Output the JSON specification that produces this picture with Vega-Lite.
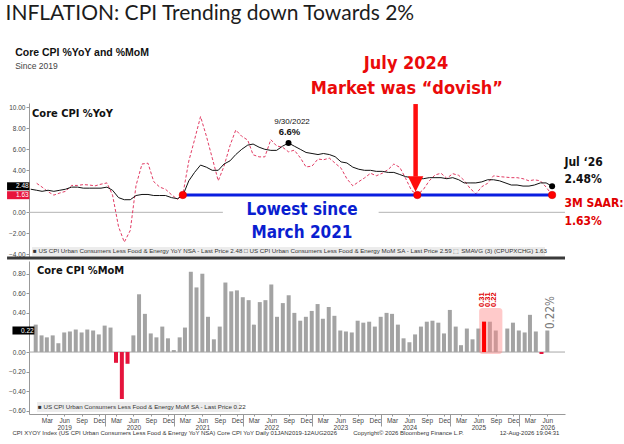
{
  "$schema": "https://vega.github.io/schema/vega-lite/v6.json",
  "background": "white",
  "padding": {"left": 5, "top": 3, "right": 0, "bottom": 0},
  "title": {
    "text": "INFLATION: CPI Trending down Towards 2%",
    "anchor": "start",
    "frame": "bounds",
    "font": "Lato",
    "fontSize": 21,
    "fontWeight": "normal",
    "color": "#1c1c1c",
    "offset": 24
  },
  "datasets": {
    "cpi": [
      {"date": "2019-01-01", "mom": 0.28, "yoy": 2.2, "saar": null},
      {"date": "2019-02-01", "mom": 0.17, "yoy": 2.1, "saar": 2.76},
      {"date": "2019-03-01", "mom": 0.15, "yoy": 2.0, "saar": 2.40},
      {"date": "2019-04-01", "mom": 0.17, "yoy": 2.1, "saar": 1.96},
      {"date": "2019-05-01", "mom": 0.09, "yoy": 2.0, "saar": 1.64},
      {"date": "2019-06-01", "mom": 0.20, "yoy": 2.1, "saar": 1.84},
      {"date": "2019-07-01", "mom": 0.21, "yoy": 2.2, "saar": 2.00},
      {"date": "2019-08-01", "mom": 0.23, "yoy": 2.4, "saar": 2.56},
      {"date": "2019-09-01", "mom": 0.20, "yoy": 2.4, "saar": 2.56},
      {"date": "2019-10-01", "mom": 0.23, "yoy": 2.3, "saar": 2.64},
      {"date": "2019-11-01", "mom": 0.22, "yoy": 2.3, "saar": 2.60},
      {"date": "2019-12-01", "mom": 0.18, "yoy": 2.3, "saar": 2.52},
      {"date": "2020-01-01", "mom": 0.27, "yoy": 2.3, "saar": 2.68},
      {"date": "2020-02-01", "mom": 0.25, "yoy": 2.4, "saar": 2.80},
      {"date": "2020-03-01", "mom": -0.11, "yoy": 2.1, "saar": 1.64},
      {"date": "2020-04-01", "mom": -0.48, "yoy": 1.4, "saar": -1.36},
      {"date": "2020-05-01", "mom": -0.12, "yoy": 1.2, "saar": -2.84},
      {"date": "2020-06-01", "mom": 0.17, "yoy": 1.2, "saar": -1.72},
      {"date": "2020-07-01", "mom": 0.59, "yoy": 1.6, "saar": 2.56},
      {"date": "2020-08-01", "mom": 0.39, "yoy": 1.7, "saar": 4.60},
      {"date": "2020-09-01", "mom": 0.19, "yoy": 1.7, "saar": 4.68},
      {"date": "2020-10-01", "mom": 0.15, "yoy": 1.6, "saar": 2.92},
      {"date": "2020-11-01", "mom": 0.26, "yoy": 1.6, "saar": 2.40},
      {"date": "2020-12-01", "mom": 0.14, "yoy": 1.6, "saar": 2.20},
      {"date": "2021-01-01", "mom": 0.02, "yoy": 1.4, "saar": 1.68},
      {"date": "2021-02-01", "mom": 0.15, "yoy": 1.3, "saar": 1.24},
      {"date": "2021-03-01", "mom": 0.25, "yoy": 1.6, "saar": 1.68},
      {"date": "2021-04-01", "mom": 0.82, "yoy": 3.0, "saar": 4.88},
      {"date": "2021-05-01", "mom": 0.66, "yoy": 3.8, "saar": 6.92},
      {"date": "2021-06-01", "mom": 0.80, "yoy": 4.5, "saar": 9.12},
      {"date": "2021-07-01", "mom": 0.36, "yoy": 4.3, "saar": 7.28},
      {"date": "2021-08-01", "mom": 0.13, "yoy": 4.0, "saar": 5.16},
      {"date": "2021-09-01", "mom": 0.26, "yoy": 4.0, "saar": 3.00},
      {"date": "2021-10-01", "mom": 0.71, "yoy": 4.6, "saar": 4.40},
      {"date": "2021-11-01", "mom": 0.62, "yoy": 4.9, "saar": 6.36},
      {"date": "2021-12-01", "mom": 0.63, "yoy": 5.5, "saar": 7.84},
      {"date": "2022-01-01", "mom": 0.56, "yoy": 6.0, "saar": 7.24},
      {"date": "2022-02-01", "mom": 0.53, "yoy": 6.4, "saar": 6.88},
      {"date": "2022-03-01", "mom": 0.28, "yoy": 6.5, "saar": 5.48},
      {"date": "2022-04-01", "mom": 0.51, "yoy": 6.2, "saar": 5.28},
      {"date": "2022-05-01", "mom": 0.53, "yoy": 6.0, "saar": 5.28},
      {"date": "2022-06-01", "mom": 0.69, "yoy": 5.9, "saar": 6.92},
      {"date": "2022-07-01", "mom": 0.36, "yoy": 5.9, "saar": 6.32},
      {"date": "2022-08-01", "mom": 0.50, "yoy": 6.3, "saar": 6.20},
      {"date": "2022-09-01", "mom": 0.58, "yoy": 6.6, "saar": 5.76},
      {"date": "2022-10-01", "mom": 0.40, "yoy": 6.3, "saar": 5.92},
      {"date": "2022-11-01", "mom": 0.32, "yoy": 6.0, "saar": 5.20},
      {"date": "2022-12-01", "mom": 0.36, "yoy": 5.7, "saar": 4.32},
      {"date": "2023-01-01", "mom": 0.42, "yoy": 5.6, "saar": 4.40},
      {"date": "2023-02-01", "mom": 0.49, "yoy": 5.5, "saar": 5.08},
      {"date": "2023-03-01", "mom": 0.34, "yoy": 5.6, "saar": 5.00},
      {"date": "2023-04-01", "mom": 0.46, "yoy": 5.5, "saar": 5.16},
      {"date": "2023-05-01", "mom": 0.37, "yoy": 5.3, "saar": 4.68},
      {"date": "2023-06-01", "mom": 0.22, "yoy": 4.8, "saar": 4.20},
      {"date": "2023-07-01", "mom": 0.21, "yoy": 4.7, "saar": 3.20},
      {"date": "2023-08-01", "mom": 0.20, "yoy": 4.3, "saar": 2.52},
      {"date": "2023-09-01", "mom": 0.32, "yoy": 4.1, "saar": 2.92},
      {"date": "2023-10-01", "mom": 0.30, "yoy": 4.0, "saar": 3.28},
      {"date": "2023-11-01", "mom": 0.31, "yoy": 4.0, "saar": 3.72},
      {"date": "2023-12-01", "mom": 0.26, "yoy": 3.9, "saar": 3.48},
      {"date": "2024-01-01", "mom": 0.36, "yoy": 3.9, "saar": 3.72},
      {"date": "2024-02-01", "mom": 0.40, "yoy": 3.8, "saar": 4.08},
      {"date": "2024-03-01", "mom": 0.39, "yoy": 3.8, "saar": 4.60},
      {"date": "2024-04-01", "mom": 0.28, "yoy": 3.6, "saar": 4.28},
      {"date": "2024-05-01", "mom": 0.14, "yoy": 3.4, "saar": 3.24},
      {"date": "2024-06-01", "mom": 0.10, "yoy": 3.3, "saar": 2.08},
      {"date": "2024-07-01", "mom": 0.18, "yoy": 3.2, "saar": 1.68},
      {"date": "2024-08-01", "mom": 0.26, "yoy": 3.2, "saar": 2.16},
      {"date": "2024-09-01", "mom": 0.31, "yoy": 3.3, "saar": 3.00},
      {"date": "2024-10-01", "mom": 0.32, "yoy": 3.3, "saar": 3.56},
      {"date": "2024-11-01", "mom": 0.30, "yoy": 3.3, "saar": 3.72},
      {"date": "2024-12-01", "mom": 0.19, "yoy": 3.2, "saar": 3.24},
      {"date": "2025-01-01", "mom": 0.43, "yoy": 3.3, "saar": 3.68},
      {"date": "2025-02-01", "mom": 0.26, "yoy": 3.1, "saar": 3.52},
      {"date": "2025-03-01", "mom": 0.07, "yoy": 2.8, "saar": 3.04},
      {"date": "2025-04-01", "mom": 0.24, "yoy": 2.8, "saar": 2.28},
      {"date": "2025-05-01", "mom": 0.13, "yoy": 2.8, "saar": 1.76},
      {"date": "2025-06-01", "mom": 0.24, "yoy": 2.9, "saar": 2.44},
      {"date": "2025-07-01", "mom": 0.31, "yoy": 3.1, "saar": 2.76},
      {"date": "2025-08-01", "mom": 0.31, "yoy": 3.1, "saar": 3.48},
      {"date": "2025-09-01", "mom": 0.22, "yoy": 3.0, "saar": 3.40},
      {"date": "2025-11-01", "mom": 0.24, "yoy": 2.6, "saar": 3.30},
      {"date": "2025-12-01", "mom": 0.30, "yoy": 2.6, "saar": 3.30},
      {"date": "2026-01-01", "mom": 0.22, "yoy": 2.5, "saar": 3.20},
      {"date": "2026-02-01", "mom": 0.20, "yoy": 2.5, "saar": 3.00},
      {"date": "2026-03-01", "mom": 0.38, "yoy": 2.6, "saar": 3.10},
      {"date": "2026-04-01", "mom": 0.21, "yoy": 2.8, "saar": 3.00},
      {"date": "2026-05-01", "mom": -0.02, "yoy": 2.8, "saar": 2.40},
      {"date": "2026-06-01", "mom": 0.22, "yoy": 2.48, "saar": 1.63}
    ]
  },
  "bounds": "flush",
  "spacing": 3,
  "vconcat": [
    {
      "width": 536,
      "height": 155,
      "data": {"name": "cpi"},
      "resolve": {"axis": {"y": "independent"}},
      "layer": [
        {
          "data": {"values": [{}]},
          "mark": {"type": "rule", "color": "#b4b4b4", "strokeWidth": 1},
          "encoding": {
            "x": {"datum": {"year": 2018, "month": 12, "date": 23, "utc": true}, "type": "temporal", "axis": null,
              "scale": {"type": "utc", "domain": [{"year": 2018, "month": 12, "date": 23, "utc": true}, {"year": 2026, "month": 8, "date": 7, "utc": true}]}},
            "x2": {"datum": {"year": 2021, "month": 9, "date": 25, "utc": true}},
            "y": {"datum": 0, "type": "quantitative", "title": null,
              "scale": {"domain": [-4.35, 10.41], "nice": false, "zero": false},
              "axis": {"orient": "left", "values": [-4, -2, 0, 2, 4, 6, 8, 10],
                "labelExpr": "datum.value == 2 ? '' : format(datum.value, '.2f')",
                "tickSize": 3, "labelPadding": 1, "labelOverlap": false, "grid": false, "title": null}}
          }
        },
        {
          "data": {"values": [{}]},
          "mark": {"type": "rule", "color": "#b4b4b4", "strokeWidth": 1},
          "encoding": {
            "x": {"datum": {"year": 2023, "month": 12, "date": 13, "utc": true}, "type": "temporal", "axis": null},
            "x2": {"datum": {"year": 2026, "month": 8, "date": 7, "utc": true}},
            "y": {"datum": 0, "type": "quantitative", "axis": null}
          }
        },
        {
          "data": {"values": [{}]},
          "mark": {"type": "rect", "color": "#ececec"},
          "encoding": {
            "x": {"datum": {"year": 2019, "month": 1, "date": 8, "utc": true}, "type": "temporal", "axis": null},
            "x2": {"datum": {"year": 2026, "month": 4, "date": 25, "utc": true}},
            "y": {"datum": -3.3, "type": "quantitative", "axis": null},
            "y2": {"datum": -4.16}
          }
        },
        {
          "data": {"values": [{}]},
          "mark": {"type": "text", "text": "■ US CPI Urban Consumers Less Food & Energy YoY NSA - Last Price 2.48    □ US CPI Urban Consumers Less Food & Energy MoM SA - Last Price 2.59    ⬚ SMAVG (3) (CPUPXCHG) 1.63",
            "align": "left", "baseline": "middle", "font": "Liberation Sans, Arial, sans-serif", "fontSize": 6.2, "color": "#333333"},
          "encoding": {
            "x": {"datum": {"year": 2019, "month": 1, "date": 13, "utc": true}, "type": "temporal", "axis": null},
            "y": {"datum": -3.73, "type": "quantitative", "axis": null}
          }
        },
        {
          "mark": {"type": "line", "color": "#e23c64", "strokeWidth": 1, "strokeDash": [3, 2]},
          "encoding": {
            "x": {"field": "date", "type": "temporal", "axis": null},
            "y": {"field": "saar", "type": "quantitative", "axis": null}
          }
        },
        {
          "mark": {"type": "line", "color": "#111111", "strokeWidth": 1},
          "encoding": {
            "x": {"field": "date", "type": "temporal", "axis": null},
            "y": {"field": "yoy", "type": "quantitative", "axis": null}
          }
        },
        {
          "data": {"values": [{}]},
          "mark": {"type": "rule", "color": "#0a1ee0", "strokeWidth": 3},
          "encoding": {
            "x": {"datum": {"year": 2021, "month": 3, "date": 1, "utc": true}, "type": "temporal", "axis": null},
            "x2": {"datum": {"year": 2026, "month": 6, "date": 1, "utc": true}},
            "y": {"datum": 1.65, "type": "quantitative", "axis": null}
          }
        },
        {
          "transform": [{"filter": {"field": "date", "timeUnit": "utcyearmonth", "oneOf": [
            {"year": 2021, "month": 3, "utc": true}, {"year": 2024, "month": 7, "utc": true}, {"year": 2026, "month": 6, "utc": true}]}}],
          "mark": {"type": "point", "filled": true, "color": "#ff0000", "opacity": 1, "size": 56, "stroke": "#c80000", "strokeWidth": 0.5},
          "encoding": {
            "x": {"field": "date", "type": "temporal", "axis": null},
            "y": {"datum": 1.65, "type": "quantitative", "axis": null}
          }
        },
        {
          "transform": [{"filter": {"field": "date", "timeUnit": "utcyearmonth", "oneOf": [
            {"year": 2022, "month": 9, "utc": true}, {"year": 2026, "month": 6, "utc": true}]}}],
          "mark": {"type": "point", "filled": true, "color": "#000000", "opacity": 1, "size": 36},
          "encoding": {
            "x": {"field": "date", "type": "temporal", "axis": null},
            "y": {"field": "yoy", "type": "quantitative", "axis": null}
          }
        },
        {
          "data": {"values": [{}]},
          "mark": {"type": "rule", "color": "#ff0d0d", "strokeWidth": 4.5},
          "encoding": {
            "x": {"datum": {"year": 2024, "month": 6, "date": 22, "utc": true}, "type": "temporal", "axis": null},
            "y": {"datum": 10.31, "type": "quantitative", "axis": null},
            "y2": {"datum": 3.4}
          }
        },
        {
          "data": {"values": [{}]},
          "mark": {"type": "point", "shape": "M-1,-1L1,-1L0,1Z", "size": 240, "filled": true, "color": "#ff0d0d", "opacity": 1},
          "encoding": {
            "x": {"datum": {"year": 2024, "month": 6, "date": 22, "utc": true}, "type": "temporal", "axis": null},
            "y": {"datum": 2.7, "type": "quantitative", "axis": null}
          }
        },
        {
          "data": {"values": [{}]},
          "mark": {"type": "text", "text": "Core CPI %YoY and %MoM", "align": "left", "baseline": "middle",
            "font": "Liberation Sans, Arial, sans-serif", "fontWeight": "bold", "fontSize": 10.5, "color": "#111111"},
          "encoding": {
            "x": {"datum": {"year": 2018, "month": 10, "date": 12, "utc": true}, "type": "temporal", "axis": null},
            "y": {"datum": 15.17, "type": "quantitative", "axis": null}
          }
        },
        {
          "data": {"values": [{}]},
          "mark": {"type": "text", "text": "Since 2019", "align": "left", "baseline": "middle",
            "font": "Liberation Sans, Arial, sans-serif", "fontSize": 8.5, "color": "#444444"},
          "encoding": {
            "x": {"datum": {"year": 2018, "month": 10, "date": 12, "utc": true}, "type": "temporal", "axis": null},
            "y": {"datum": 13.97, "type": "quantitative", "axis": null}
          }
        },
        {
          "data": {"values": [{}]},
          "mark": {"type": "text", "text": "July 2024", "align": "center", "baseline": "middle",
            "font": "Liberation Sans Narrow, DejaVu Sans Condensed, sans-serif", "fontWeight": "bold", "fontSize": 18, "color": "#ea0a0a"},
          "encoding": {
            "x": {"datum": {"year": 2024, "month": 5, "date": 3, "utc": true}, "type": "temporal", "axis": null},
            "y": {"datum": 14.12, "type": "quantitative", "axis": null}
          }
        },
        {
          "data": {"values": [{}]},
          "mark": {"type": "text", "text": "Market was “dovish”", "align": "center", "baseline": "middle",
            "font": "Liberation Sans Narrow, DejaVu Sans Condensed, sans-serif", "fontWeight": "bold", "fontSize": 18, "color": "#ea0a0a"},
          "encoding": {
            "x": {"datum": {"year": 2024, "month": 5, "date": 8, "utc": true}, "type": "temporal", "axis": null},
            "y": {"datum": 11.74, "type": "quantitative", "axis": null}
          }
        },
        {
          "data": {"values": [{}]},
          "mark": {"type": "text", "text": "Core CPI %YoY", "align": "left", "baseline": "middle",
            "font": "Liberation Sans Narrow, DejaVu Sans Condensed, sans-serif", "fontWeight": "bold", "fontSize": 11, "color": "#111111"},
          "encoding": {
            "x": {"datum": {"year": 2019, "month": 1, "date": 8, "utc": true}, "type": "temporal", "axis": null},
            "y": {"datum": 9.35, "type": "quantitative", "axis": null}
          }
        },
        {
          "data": {"values": [{}]},
          "mark": {"type": "text", "text": "9/30/2022", "align": "center", "baseline": "middle",
            "font": "Liberation Sans, Arial, sans-serif", "fontSize": 8, "color": "#111111"},
          "encoding": {
            "x": {"datum": {"year": 2022, "month": 9, "date": 19, "utc": true}, "type": "temporal", "axis": null},
            "y": {"datum": 8.57, "type": "quantitative", "axis": null}
          }
        },
        {
          "data": {"values": [{}]},
          "mark": {"type": "text", "text": "6.6%", "align": "center", "baseline": "middle",
            "font": "Liberation Sans, Arial, sans-serif", "fontWeight": "bold", "fontSize": 9.5, "color": "#111111"},
          "encoding": {
            "x": {"datum": {"year": 2022, "month": 9, "date": 6, "utc": true}, "type": "temporal", "axis": null},
            "y": {"datum": 7.65, "type": "quantitative", "axis": null}
          }
        },
        {
          "data": {"values": [{}]},
          "mark": {"type": "text", "text": "Lowest since", "align": "center", "baseline": "middle",
            "font": "Liberation Sans Narrow, DejaVu Sans Condensed, sans-serif", "fontWeight": "bold", "fontSize": 17, "color": "#0a1ed0"},
          "encoding": {
            "x": {"datum": {"year": 2022, "month": 11, "date": 10, "utc": true}, "type": "temporal", "axis": null},
            "y": {"datum": 0.24, "type": "quantitative", "axis": null}
          }
        },
        {
          "data": {"values": [{}]},
          "mark": {"type": "text", "text": "March 2021", "align": "center", "baseline": "middle",
            "font": "Liberation Sans Narrow, DejaVu Sans Condensed, sans-serif", "fontWeight": "bold", "fontSize": 17, "color": "#0a1ed0"},
          "encoding": {
            "x": {"datum": {"year": 2022, "month": 11, "date": 10, "utc": true}, "type": "temporal", "axis": null},
            "y": {"datum": -1.97, "type": "quantitative", "axis": null}
          }
        },
        {
          "data": {"values": [{}]},
          "mark": {"type": "text", "text": "Jul ‘26", "align": "left", "baseline": "middle",
            "font": "Liberation Sans Narrow, DejaVu Sans Condensed, sans-serif", "fontWeight": "bold", "fontSize": 12, "color": "#111111"},
          "encoding": {
            "x": {"datum": {"year": 2026, "month": 8, "date": 4, "utc": true}, "type": "temporal", "axis": null},
            "y": {"datum": 4.76, "type": "quantitative", "axis": null}
          }
        },
        {
          "data": {"values": [{}]},
          "mark": {"type": "text", "text": "2.48%", "align": "left", "baseline": "middle",
            "font": "Liberation Sans Narrow, DejaVu Sans Condensed, sans-serif", "fontWeight": "bold", "fontSize": 12, "color": "#111111"},
          "encoding": {
            "x": {"datum": {"year": 2026, "month": 8, "date": 4, "utc": true}, "type": "temporal", "axis": null},
            "y": {"datum": 3.17, "type": "quantitative", "axis": null}
          }
        },
        {
          "data": {"values": [{}]},
          "mark": {"type": "text", "text": "3M SAAR:", "align": "left", "baseline": "middle",
            "font": "Liberation Sans Narrow, DejaVu Sans Condensed, sans-serif", "fontWeight": "bold", "fontSize": 12, "color": "#e00000"},
          "encoding": {
            "x": {"datum": {"year": 2026, "month": 8, "date": 4, "utc": true}, "type": "temporal", "axis": null},
            "y": {"datum": 0.89, "type": "quantitative", "axis": null}
          }
        },
        {
          "data": {"values": [{}]},
          "mark": {"type": "text", "text": "1.63%", "align": "left", "baseline": "middle",
            "font": "Liberation Sans Narrow, DejaVu Sans Condensed, sans-serif", "fontWeight": "bold", "fontSize": 12, "color": "#e00000"},
          "encoding": {
            "x": {"datum": {"year": 2026, "month": 8, "date": 4, "utc": true}, "type": "temporal", "axis": null},
            "y": {"datum": -0.8, "type": "quantitative", "axis": null}
          }
        },
        {
          "data": {"values": [{}]},
          "mark": {"type": "rect", "color": "#000000"},
          "encoding": {
            "x": {"datum": {"year": 2018, "month": 8, "date": 31, "utc": true}, "type": "temporal", "axis": null},
            "x2": {"datum": {"year": 2018, "month": 12, "date": 25, "utc": true}},
            "y": {"datum": 2.86, "type": "quantitative", "axis": null},
            "y2": {"datum": 2.1}
          }
        },
        {
          "data": {"values": [{}]},
          "mark": {"type": "rect", "color": "#e8143c"},
          "encoding": {
            "x": {"datum": {"year": 2018, "month": 8, "date": 31, "utc": true}, "type": "temporal", "axis": null},
            "x2": {"datum": {"year": 2018, "month": 12, "date": 25, "utc": true}},
            "y": {"datum": 2.01, "type": "quantitative", "axis": null},
            "y2": {"datum": 1.25}
          }
        },
        {
          "data": {"values": [{}]},
          "mark": {"type": "text", "text": "2.48", "align": "right", "baseline": "middle",
            "font": "Liberation Sans, Arial, sans-serif", "fontSize": 6.5, "color": "#ffffff"},
          "encoding": {
            "x": {"datum": {"year": 2018, "month": 12, "date": 21, "utc": true}, "type": "temporal", "axis": null},
            "y": {"datum": 2.48, "type": "quantitative", "axis": null}
          }
        },
        {
          "data": {"values": [{}]},
          "mark": {"type": "text", "text": "1.63", "align": "right", "baseline": "middle",
            "font": "Liberation Sans, Arial, sans-serif", "fontSize": 6.5, "color": "#ffffff"},
          "encoding": {
            "x": {"datum": {"year": 2018, "month": 12, "date": 21, "utc": true}, "type": "temporal", "axis": null},
            "y": {"datum": 1.63, "type": "quantitative", "axis": null}
          }
        },
        {
          "data": {"values": [{}]},
          "mark": {"type": "rule", "color": "#3a3a3a", "strokeWidth": 3},
          "encoding": {
            "x": {"datum": {"year": 2018, "month": 8, "date": 31, "utc": true}, "type": "temporal", "axis": null},
            "x2": {"datum": {"year": 2026, "month": 8, "date": 7, "utc": true}},
            "y": {"datum": -4.35, "type": "quantitative", "axis": null}
          }
        }
      ]
    },
    {
      "width": 536,
      "height": 153,
      "data": {"name": "cpi"},
      "resolve": {"axis": {"x": "independent", "y": "independent"}},
      "layer": [
        {
          "data": {"values": [{}]},
          "mark": {"type": "rule", "color": "#a8a8a8", "strokeWidth": 1},
          "encoding": {
            "y": {"datum": 0, "type": "quantitative", "title": null,
              "scale": {"domain": [-0.633, 0.93], "nice": false, "zero": false},
              "axis": {"orient": "left", "values": [-0.6, -0.4, -0.2, 0, 0.2, 0.4, 0.6, 0.8],
                "labelExpr": "abs(datum.value - 0.2) < 0.001 ? '' : format(datum.value, '.2f')",
                "tickSize": 3, "labelPadding": 1, "labelOverlap": false, "grid": false, "title": null}}
          }
        },
        {
          "mark": {"type": "bar", "width": 4},
          "encoding": {
            "x": {"field": "date", "type": "temporal", "title": null,
              "scale": {"type": "utc", "domain": [{"year": 2018, "month": 12, "date": 23, "utc": true}, {"year": 2026, "month": 8, "date": 7, "utc": true}]},
              "axis": {
                "orient": "bottom",
                "values": [
                  {"year": 2019, "month": 3, "date": 1, "utc": true}, {"year": 2019, "month": 6, "date": 1, "utc": true}, {"year": 2019, "month": 9, "date": 1, "utc": true}, {"year": 2019, "month": 12, "date": 1, "utc": true},
                  {"year": 2020, "month": 3, "date": 1, "utc": true}, {"year": 2020, "month": 6, "date": 1, "utc": true}, {"year": 2020, "month": 9, "date": 1, "utc": true}, {"year": 2020, "month": 12, "date": 1, "utc": true},
                  {"year": 2021, "month": 3, "date": 1, "utc": true}, {"year": 2021, "month": 6, "date": 1, "utc": true}, {"year": 2021, "month": 9, "date": 1, "utc": true}, {"year": 2021, "month": 12, "date": 1, "utc": true},
                  {"year": 2022, "month": 3, "date": 1, "utc": true}, {"year": 2022, "month": 6, "date": 1, "utc": true}, {"year": 2022, "month": 9, "date": 1, "utc": true}, {"year": 2022, "month": 12, "date": 1, "utc": true},
                  {"year": 2023, "month": 3, "date": 1, "utc": true}, {"year": 2023, "month": 6, "date": 1, "utc": true}, {"year": 2023, "month": 9, "date": 1, "utc": true}, {"year": 2023, "month": 12, "date": 1, "utc": true},
                  {"year": 2024, "month": 3, "date": 1, "utc": true}, {"year": 2024, "month": 6, "date": 1, "utc": true}, {"year": 2024, "month": 9, "date": 1, "utc": true}, {"year": 2024, "month": 12, "date": 1, "utc": true},
                  {"year": 2025, "month": 3, "date": 1, "utc": true}, {"year": 2025, "month": 6, "date": 1, "utc": true}, {"year": 2025, "month": 9, "date": 1, "utc": true}, {"year": 2025, "month": 12, "date": 1, "utc": true},
                  {"year": 2026, "month": 3, "date": 1, "utc": true}, {"year": 2026, "month": 6, "date": 1, "utc": true}
                ],
                "labelExpr": "utcmonth(datum.value) == 5 ? ['Jun', utcFormat(datum.value, '%Y')] : utcFormat(datum.value, '%b')",
                "labelLineHeight": 7,
                "labelPadding": 1,
                "tickSize": 2,
                "labelFlush": false,
                "grid": false
              }
            },
            "y": {"field": "mom", "type": "quantitative", "axis": null},
            "color": {"condition": {"test": "datum.mom < 0", "value": "#e5143c"}, "value": "#a3a3a3"}
          }
        },
        {
          "data": {"values": [{}]},
          "mark": {"type": "rect", "color": "#ff8a8a", "opacity": 0.45, "cornerRadius": 3},
          "encoding": {
            "x": {"datum": {"year": 2025, "month": 6, "date": 5, "utc": true}, "type": "temporal", "axis": null},
            "x2": {"datum": {"year": 2025, "month": 10, "date": 6, "utc": true}},
            "y": {"datum": 0.45, "type": "quantitative", "axis": null},
            "y2": {"datum": -0.02}
          }
        },
        {
          "transform": [{"filter": {"field": "date", "timeUnit": "utcyearmonth", "equal": {"year": 2025, "month": 7, "utc": true}}}],
          "mark": {"type": "bar", "width": 4, "color": "#ff0000"},
          "encoding": {
            "x": {"field": "date", "type": "temporal", "title": null,
              "axis": {
                "orient": "bottom",
                "values": [
                  {"year": 2020, "month": 1, "date": 1, "utc": true}, {"year": 2021, "month": 1, "date": 1, "utc": true}, {"year": 2022, "month": 1, "date": 1, "utc": true},
                  {"year": 2023, "month": 1, "date": 1, "utc": true}, {"year": 2024, "month": 1, "date": 1, "utc": true}, {"year": 2025, "month": 1, "date": 1, "utc": true},
                  {"year": 2026, "month": 1, "date": 1, "utc": true}
                ],
                "labels": false,
                "domain": false,
                "tickSize": 12,
                "grid": false
              }
            },
            "y": {"field": "mom", "type": "quantitative", "axis": null}
          }
        },
        {
          "transform": [{"filter": {"field": "date", "timeUnit": "utcyearmonth", "range": [{"year": 2025, "month": 7, "utc": true}, {"year": 2025, "month": 9, "utc": true}]}}],
          "mark": {"type": "text", "angle": 270, "align": "left", "baseline": "alphabetic",
            "font": "Liberation Sans, Arial, sans-serif", "fontWeight": "bold", "fontSize": 7.5, "color": "#e00000"},
          "encoding": {
            "x": {"field": "date", "type": "temporal", "axis": null},
            "y": {"datum": 0.46, "type": "quantitative", "axis": null},
            "text": {"field": "mom", "type": "quantitative", "format": ".2f"}
          }
        },
        {
          "data": {"values": [{}]},
          "mark": {"type": "text", "text": "0.22%", "angle": 270, "align": "left", "baseline": "middle",
            "font": "Liberation Sans Narrow, DejaVu Sans Condensed, sans-serif", "fontSize": 11.5, "color": "#777777"},
          "encoding": {
            "x": {"datum": {"year": 2026, "month": 6, "date": 20, "utc": true}, "type": "temporal", "axis": null},
            "y": {"datum": 0.235, "type": "quantitative", "axis": null}
          }
        },
        {
          "data": {"values": [{}]},
          "mark": {"type": "text", "text": "Core CPI %MoM", "align": "left", "baseline": "middle",
            "font": "Liberation Sans Narrow, DejaVu Sans Condensed, sans-serif", "fontWeight": "bold", "fontSize": 11, "color": "#111111"},
          "encoding": {
            "x": {"datum": {"year": 2019, "month": 1, "date": 8, "utc": true}, "type": "temporal", "axis": null},
            "y": {"datum": 0.83, "type": "quantitative", "axis": null}
          }
        },
        {
          "data": {"values": [{}]},
          "mark": {"type": "rect", "color": "#ececec"},
          "encoding": {
            "x": {"datum": {"year": 2019, "month": 1, "date": 8, "utc": true}, "type": "temporal", "axis": null},
            "x2": {"datum": {"year": 2021, "month": 12, "date": 18, "utc": true}},
            "y": {"datum": -0.51, "type": "quantitative", "axis": null},
            "y2": {"datum": -0.613}
          }
        },
        {
          "data": {"values": [{}]},
          "mark": {"type": "text", "text": "■ US CPI Urban Consumers Less Food & Energy MoM SA - Last Price 0.22",
            "align": "left", "baseline": "middle", "font": "Liberation Sans, Arial, sans-serif", "fontSize": 6.2, "color": "#333333"},
          "encoding": {
            "x": {"datum": {"year": 2019, "month": 1, "date": 13, "utc": true}, "type": "temporal", "axis": null},
            "y": {"datum": -0.562, "type": "quantitative", "axis": null}
          }
        },
        {
          "data": {"values": [{}]},
          "mark": {"type": "rect", "color": "#000000"},
          "encoding": {
            "x": {"datum": {"year": 2018, "month": 8, "date": 31, "utc": true}, "type": "temporal", "axis": null},
            "x2": {"datum": {"year": 2018, "month": 12, "date": 25, "utc": true}},
            "y": {"datum": 0.261, "type": "quantitative", "axis": null},
            "y2": {"datum": 0.179}
          }
        },
        {
          "data": {"values": [{}]},
          "mark": {"type": "text", "text": "0.22", "align": "right", "baseline": "middle",
            "font": "Liberation Sans, Arial, sans-serif", "fontSize": 6.5, "color": "#ffffff"},
          "encoding": {
            "x": {"datum": {"year": 2018, "month": 12, "date": 21, "utc": true}, "type": "temporal", "axis": null},
            "y": {"datum": 0.22, "type": "quantitative", "axis": null}
          }
        },
        {
          "data": {"values": [{}]},
          "mark": {"type": "text", "text": "CPI XYOY Index (US CPI Urban Consumers Less Food & Energy YoY NSA) Core CPI YoY Daily 01JAN2019-12AUG2026",
            "align": "left", "baseline": "middle", "font": "Liberation Sans, Arial, sans-serif", "fontSize": 6, "color": "#333333"},
          "encoding": {
            "x": {"datum": {"year": 2018, "month": 8, "date": 31, "utc": true}, "type": "temporal", "axis": null},
            "y": {"datum": -0.83, "type": "quantitative", "axis": null}
          }
        },
        {
          "data": {"values": [{}]},
          "mark": {"type": "text", "text": "Copyright© 2026 Bloomberg Finance L.P.",
            "align": "center", "baseline": "middle", "font": "Liberation Sans, Arial, sans-serif", "fontSize": 6, "color": "#333333"},
          "encoding": {
            "x": {"datum": {"year": 2024, "month": 5, "date": 27, "utc": true}, "type": "temporal", "axis": null},
            "y": {"datum": -0.83, "type": "quantitative", "axis": null}
          }
        },
        {
          "data": {"values": [{}]},
          "mark": {"type": "text", "text": "12-Aug-2026 19:04:31",
            "align": "right", "baseline": "middle", "font": "Liberation Sans, Arial, sans-serif", "fontSize": 6, "color": "#333333"},
          "encoding": {
            "x": {"datum": {"year": 2026, "month": 8, "date": 4, "utc": true}, "type": "temporal", "axis": null},
            "y": {"datum": -0.83, "type": "quantitative", "axis": null}
          }
        }
      ]
    }
  ],
  "config": {
    "view": {"stroke": null},
    "axis": {
      "labelFont": "Liberation Sans, Arial, sans-serif",
      "labelFontSize": 6.5,
      "labelColor": "#444444",
      "domainColor": "#999999",
      "tickColor": "#999999",
      "grid": false
    }
  }
}
